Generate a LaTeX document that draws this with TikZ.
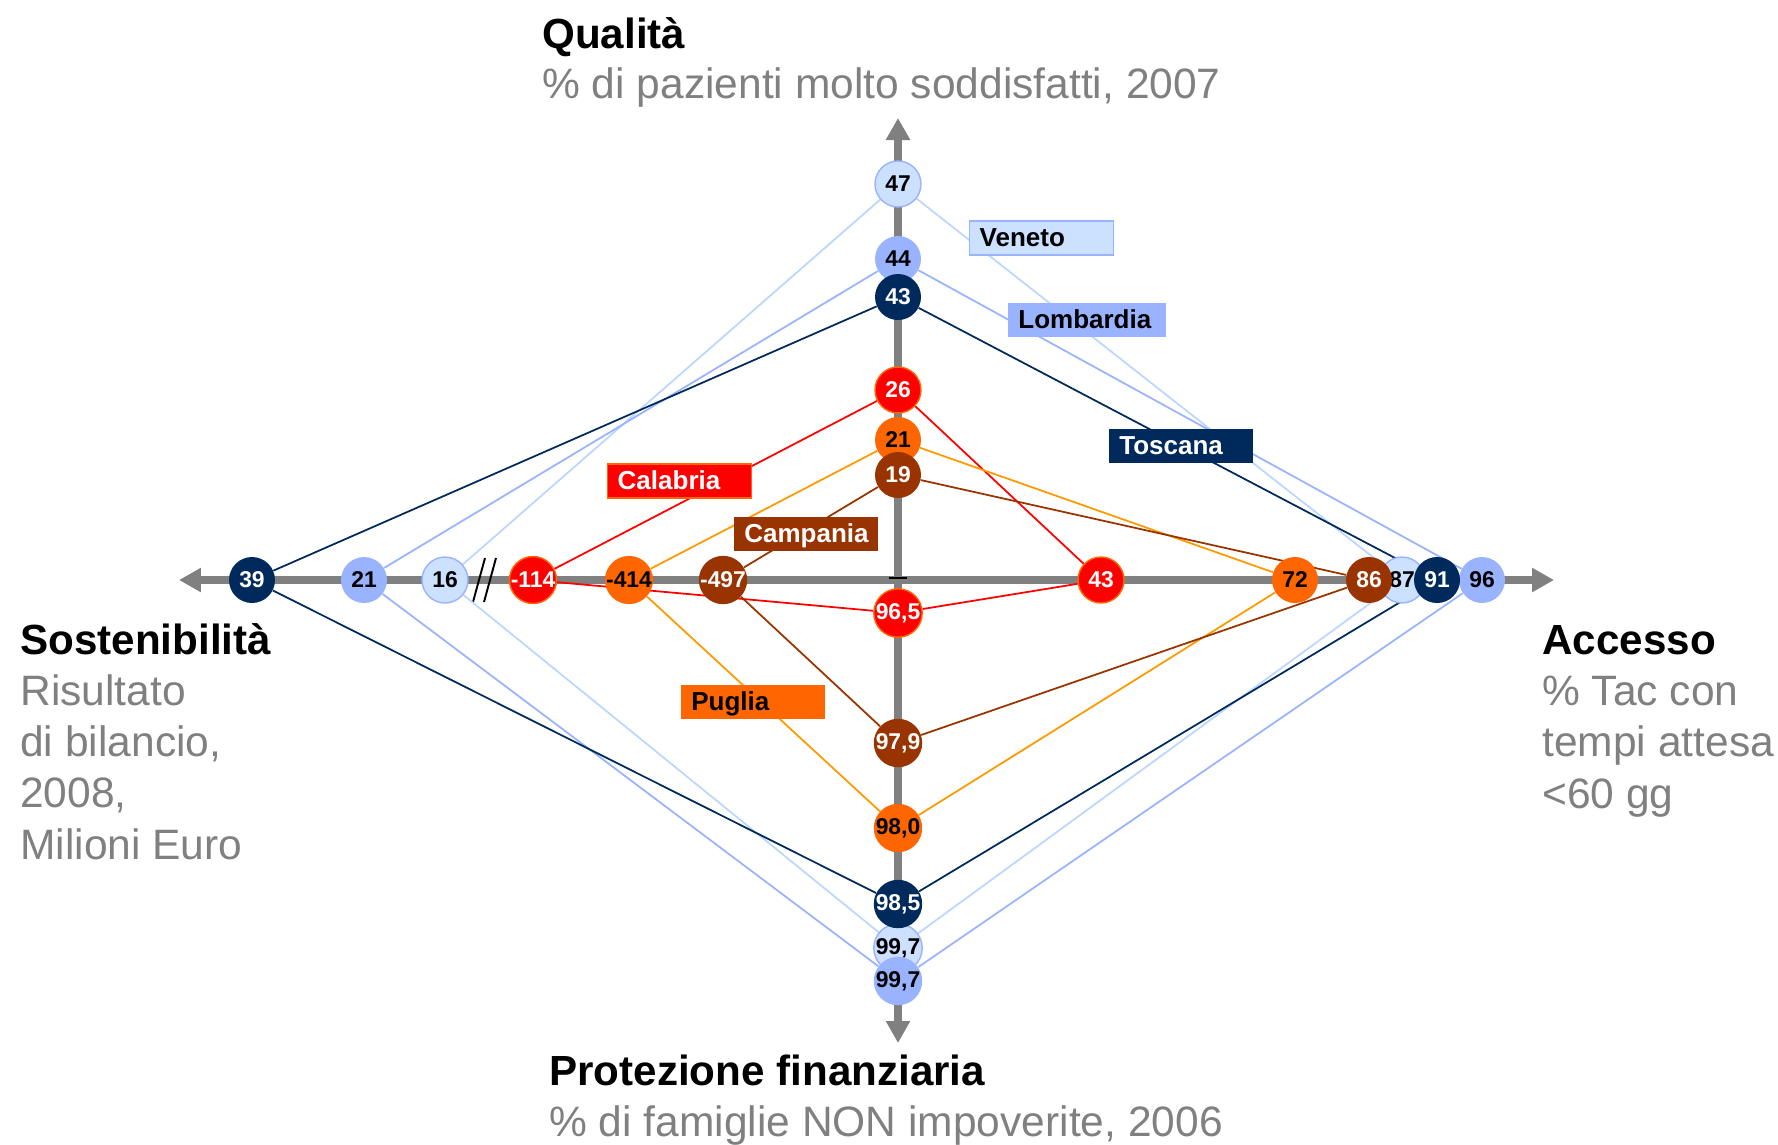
\documentclass[tikz,border=0pt]{standalone}
\usepackage{fontspec}
\setmainfont{Liberation Sans}
\usetikzlibrary{arrows.meta}
\pgfdeclarelayer{back}
\pgfsetlayers{back,main}
\definecolor{venfill}{HTML}{CCE0FF}
\definecolor{venline}{HTML}{BCD6FF}
\definecolor{venedge}{HTML}{99B3FF}
\definecolor{lomfill}{HTML}{99B3FF}
\definecolor{tosfill}{HTML}{002A5C}
\definecolor{calfill}{HTML}{FF0000}
\definecolor{pugfill}{HTML}{FF6600}
\definecolor{pugline}{HTML}{FF9900}
\definecolor{camfill}{HTML}{993300}
\definecolor{axisgray}{HTML}{808080}
\tikzset{
  val/.style={circle,minimum size=0.92cm,inner sep=0pt,font=\fontsize{13}{13}\selectfont\bfseries},
  ven/.style={val,fill=venfill,draw=venedge,line width=0.8pt},
  lom/.style={val,fill=lomfill},
  tos/.style={val,fill=tosfill,text=white},
  cal/.style={val,fill=calfill,draw=pugfill,line width=0.8pt,text=white},
  pug/.style={val,fill=pugfill},
  cam/.style={val,fill=camfill,text=white},
  tag/.style={anchor=west,text width=2.48cm,inner xsep=0.2cm,inner ysep=0pt,minimum height=0.68cm,
    text height=12pt,text depth=2pt,align=left,font=\fontsize{14.8}{14.8}\selectfont\bfseries},
  ttl/.style={anchor=base west,inner sep=0pt,font=\fontsize{24}{29.1}\selectfont\bfseries},
  sub/.style={anchor=base west,inner sep=0pt,align=left,text=axisgray,font=\fontsize{24.2}{29.1}\selectfont},
  axis/.style={axisgray,line width=0.16cm,{Triangle[width=0.46cm,length=0.44cm]}-{Triangle[width=0.46cm,length=0.44cm]}},
  edge/.style={line width=1pt}
}
\begin{document}
\begin{tikzpicture}[x=0.02cm,y=-0.02cm]
    \useasboundingbox (0,0) rectangle (1778,1144);
    \coordinate (axW) at (179,580);
    \coordinate (axE) at (1554,580);
    \coordinate (axN) at (898,118);
    \coordinate (axS) at (898,1043);

    \node[ttl] at (542,48) (qual) {Qualità};
    \node[sub] at (542,98) (qualsub) {\% di pazienti molto soddisfatti, 2007};
    \node[ttl] at (20,654) (sost) {Sostenibilità};
    \node[sub] at (20,859) (sostsub) {Risultato\\di bilancio,\\2008,\\Milioni Euro};
    \node[ttl] at (1542,654) (acc) {Accesso};
    \node[sub] at (1542,808) (accsub) {\% Tac con\\tempi attesa\\<60 gg};
    \node[ttl] at (549,1085) (prot) {Protezione finanziaria};
    \node[sub] at (549,1136) (protsub) {\% di famiglie NON impoverite, 2006};

    \node[ven] at (445,580) (V_l) {16};
    \node[ven] at (898,184) (V_t) {47};
    \node[ven] at (1402,580) (V_r) {87};
    \node[ven] at (898,948) (V_b) {99,7};

    \node[lom] at (364,580) (L_l) {21};
    \node[lom] at (898,259) (L_t) {44};
    \node[lom] at (1482,580) (L_r) {96};
    \node[lom] at (898,981) (L_b) {99,7};

    \node[tos] at (252,580) (T_l) {39};
    \node[tos] at (898,297) (T_t) {43};
    \node[tos] at (1437,580) (T_r) {91};
    \node[tos] at (898,904) (T_b) {98,5};

    \node[cal] at (533,580) (C_l) {-114};
    \node[cal] at (898,390) (C_t) {26};
    \node[cal] at (1101,580) (C_r) {43};
    \node[cal] at (898,613) (C_b) {96,5};

    \node[pug] at (629,580) (P_l) {-414};
    \node[pug] at (898,440) (P_t) {21};
    \node[pug] at (1295,580) (P_r) {72};
    \node[pug] at (898,828) (P_b) {98,0};

    \node[cam] at (723,580) (M_l) {-497};
    \node[cam] at (898,475) (M_t) {19};
    \node[cam] at (1369,580) (M_r) {86};
    \node[cam] at (898,743) (M_b) {97,9};

    \node[tag,fill=venfill,draw=venedge,line width=0.8pt] at (969,238) (veneto) {Veneto};
    \node[tag,fill=lomfill,text width=2.76cm] at (1008,320) (lombardia) {Lombardia};
    \node[tag,fill=tosfill,text=white] at (1109,446) (toscana) {Toscana};
    \node[tag,fill=calfill,draw=pugfill,line width=0.8pt,text=white] at (607,481) (calabria) {Calabria};
    \node[tag,fill=camfill,text=white] at (734,534) (campania) {Campania};
    \node[tag,fill=pugfill] at (681,702) (puglia) {Puglia};

    \begin{pgfonlayer}{back}
    \draw[axis] (axW) -- (axE);
    \draw[axis] (axN) -- (axS);
    \draw[line width=1.2pt] (889,578) -- (907,578);
    \draw[line width=1.1pt] (473,602) -- (485,558);
    \draw[line width=1.1pt] (484,602) -- (496,558);
    \draw[edge,venline] (V_l) -- (V_t) -- (V_r) -- (V_b) -- (V_l);
    \draw[edge,lomfill] (L_l) -- (L_t) -- (L_r) -- (L_b) -- (L_l);
    \draw[edge,tosfill] (T_l) -- (T_t) -- (T_r) -- (T_b) -- (T_l);
    \draw[edge,calfill] (C_l) -- (C_t) -- (C_r) -- (C_b) -- (C_l);
    \draw[edge,pugline] (P_l) -- (P_t) -- (P_r) -- (P_b) -- (P_l);
    \draw[edge,camfill] (M_l) -- (M_t) -- (M_r) -- (M_b) -- (M_l);
    \end{pgfonlayer}
\end{tikzpicture}
\end{document}
